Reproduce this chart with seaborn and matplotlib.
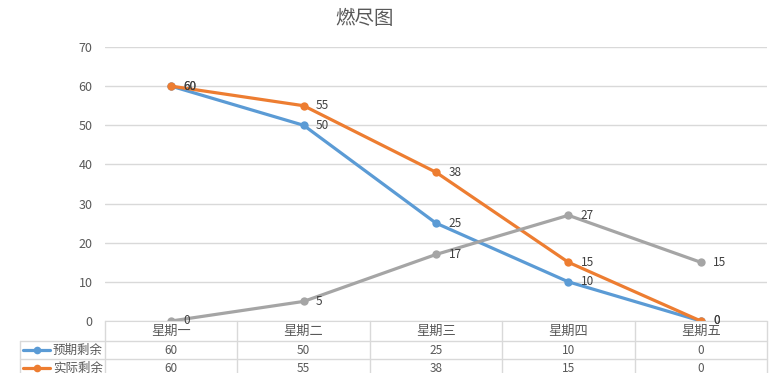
import pandas as pd
import matplotlib
matplotlib.use('Agg')
import matplotlib.pyplot as plt
from matplotlib.lines import Line2D
import seaborn as sns

# ---- data ----
days = ['星期一', '星期二', '星期三', '星期四', '星期五']
planned = [60, 50, 25, 10, 0]
actual = [60, 55, 38, 15, 0]
done = [0, 5, 17, 27, 15]
series_names = ['预期剩余', '实际剩余', '每日完成']
colors = ['#5b9bd5', '#ed7d31', '#a5a5a5']

df = pd.DataFrame({
    'day': days * 3,
    'value': planned + actual + done,
    'series': sum([[n] * len(days) for n in series_names], []),
})

sns.set_style('white')
plt.rcParams['font.family'] = ['Noto Sans CJK SC', 'DejaVu Sans']

W, H = 781, 373
fig = plt.figure(figsize=(W / 100, H / 100), dpi=100)
fig.patch.set_facecolor('white')

# plot area in pixels
L, R, T, B = 105, 767, 47, 321
ax = fig.add_axes([L / W, 1 - B / H, (R - L) / W, (B - T) / H])

sns.lineplot(data=df, x='day', y='value', hue='series', palette=colors,
             marker='o', markersize=6, markeredgewidth=0, linewidth=2.3,
             sort=False, legend=False, ax=ax)

ax.set_xlim(-0.5, len(days) - 0.5)
ax.set_ylim(0, 70)
ax.set_yticks(range(0, 71, 10))
ax.yaxis.grid(True, color='#d9d9d9', linewidth=1)
ax.set_axisbelow(True)
ax.set_xticks([])
ax.set_xlabel('')
ax.set_ylabel('')
for s in ['top', 'right', 'left']:
    ax.spines[s].set_visible(False)
ax.spines['bottom'].set_color('#d9d9d9')
ax.tick_params(axis='y', length=0, pad=9, labelsize=9, labelcolor='#595959')

# data labels
for vals in [planned, actual, done]:
    for i, v in enumerate(vals):
        ax.annotate(str(v), (i, v), xytext=(9, 0), textcoords='offset points',
                    ha='left', va='center', fontsize=8.5, color='#404040')

# title
fig.text(365 / W, 1 - 18 / H, '燃尽图', ha='center', va='center',
         fontsize=14, color='#595959')

# ---- data table under the axis ----
def fx(px):
    return px / W

def fy(py):
    return 1 - py / H

line_c = '#d9d9d9'
col_w = (R - L) / len(days)
row_y = [321, 341, 359, 377, 395]

def hline(y, x0, x1):
    fig.add_artist(Line2D([fx(x0), fx(x1)], [fy(y), fy(y)], color=line_c, lw=1))

def vline(x, y0, y1):
    fig.add_artist(Line2D([fx(x), fx(x)], [fy(y0), fy(y1)], color=line_c, lw=1))

for y in row_y[1:]:
    hline(y, 20, R)
for k in range(len(days) + 1):
    vline(L + k * col_w, 321, 400)
vline(20, 341, 400)

for i, d in enumerate(days):
    fig.text(fx(L + (i + 0.5) * col_w), fy(331), d, ha='center', va='center',
             fontsize=9.5, color='#595959')

for r, (name, vals, c) in enumerate(zip(series_names, [planned, actual, done], colors)):
    yc = (row_y[r + 1] + row_y[r + 2]) / 2
    fig.add_artist(Line2D([fx(23), fx(50)], [fy(yc), fy(yc)], color=c, lw=2.3,
                          marker='o', markevery=[], ms=0))
    fig.add_artist(Line2D([fx(36.5)], [fy(yc)], color=c, marker='o', ms=5.5,
                          markeredgewidth=0, lw=0))
    fig.text(fx(53), fy(yc), name, ha='left', va='center', fontsize=9,
             color='#595959')
    for i, v in enumerate(vals):
        fig.text(fx(L + (i + 0.5) * col_w), fy(yc), str(v), ha='center',
                 va='center', fontsize=8.5, color='#595959')

fig.savefig('out.png', dpi=100, facecolor='white')
